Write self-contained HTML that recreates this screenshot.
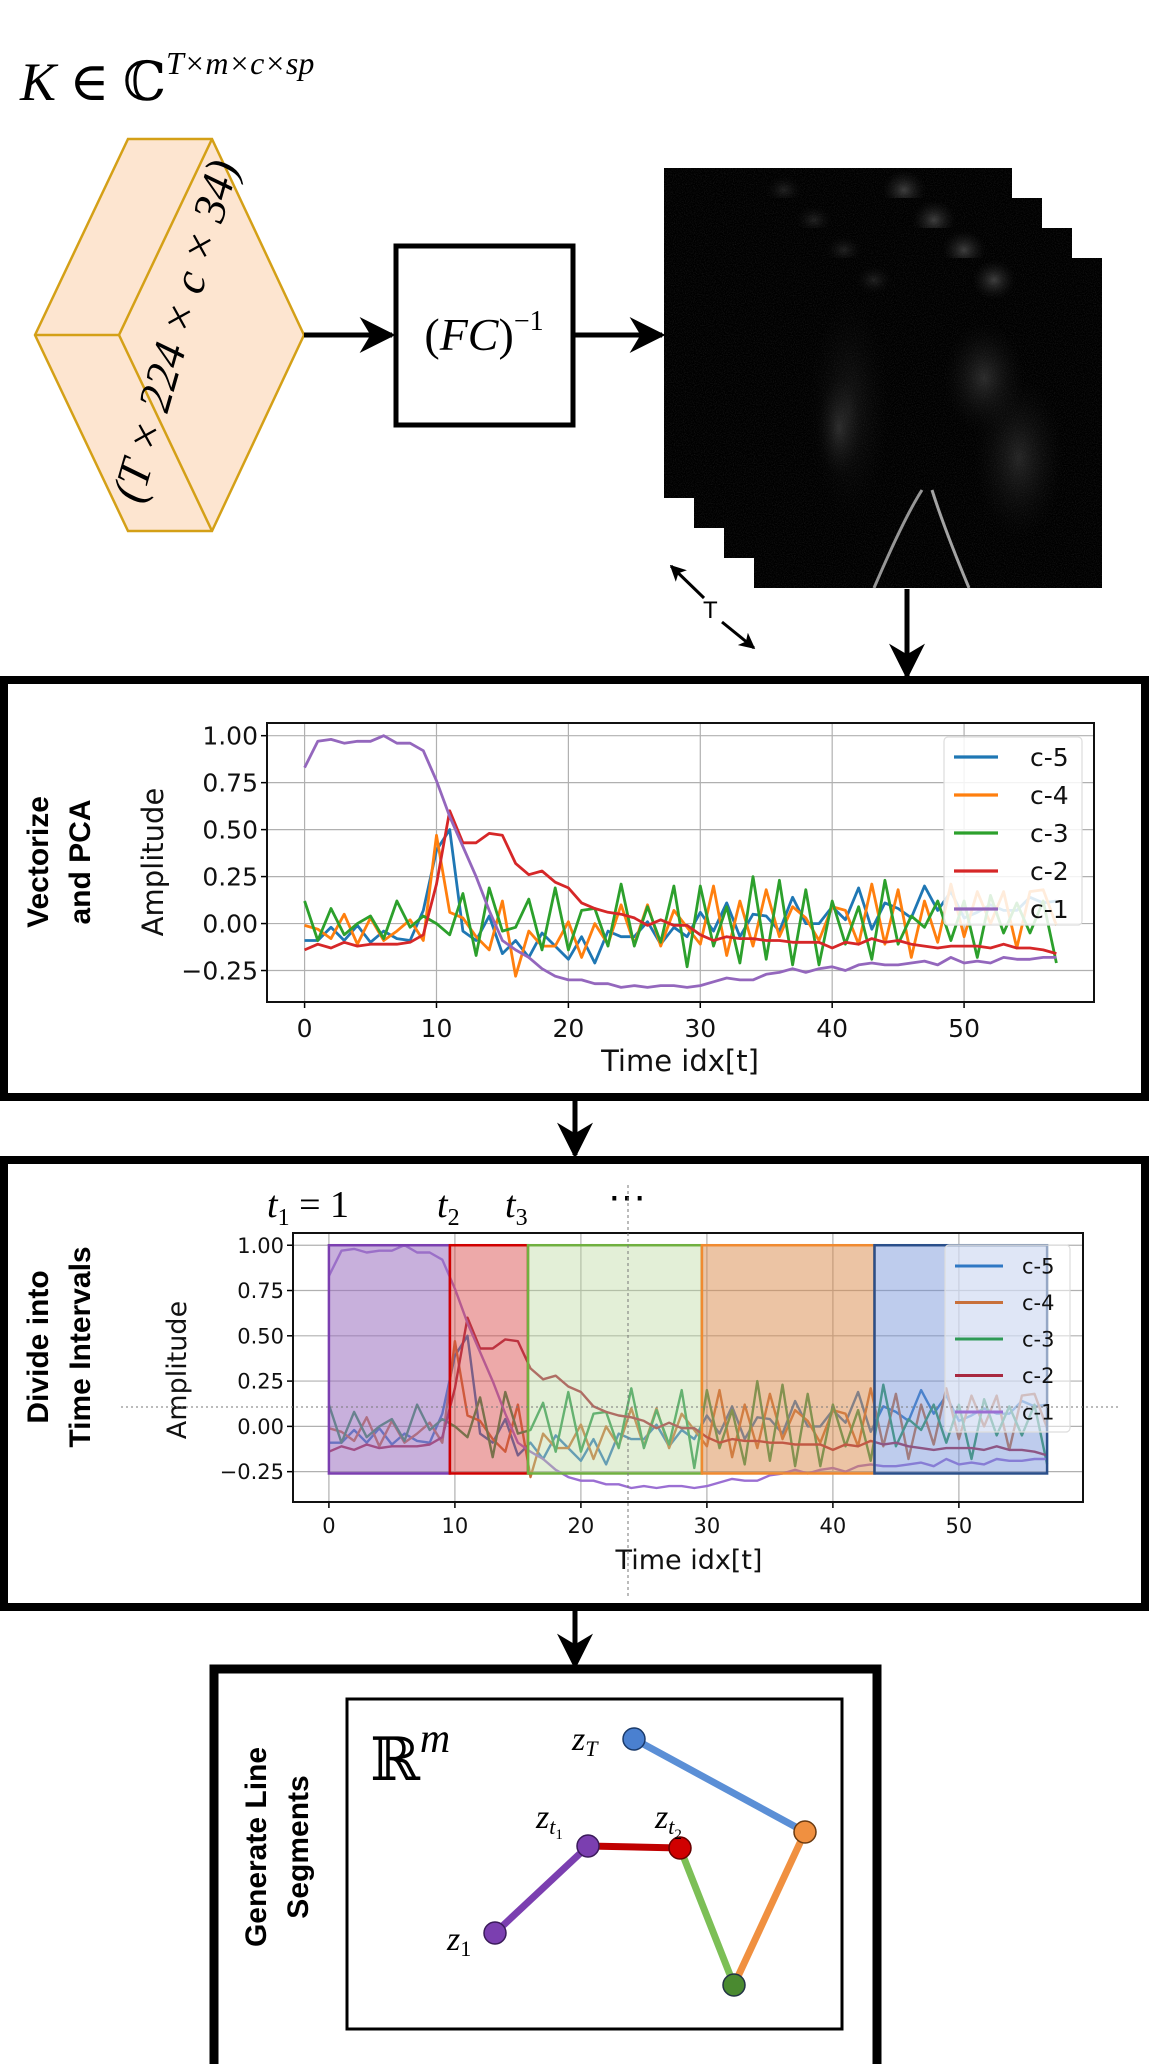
<!DOCTYPE html>
<html><head><meta charset="utf-8">
<style>
html,body{margin:0;padding:0;background:#fff;}
svg{display:block;}
.tick{font-family:"DejaVu Sans","Liberation Sans",sans-serif;fill:#111;}
.math{font-family:"Liberation Serif","DejaVu Serif",serif;font-style:italic;fill:#000;}
.side{font-family:"Liberation Sans",sans-serif;font-weight:bold;fill:#000;}
</style></head>
<body>
<svg id="root" width="1149" height="2064" viewBox="0 0 1149 2064" xmlns="http://www.w3.org/2000/svg">
<defs>
  <marker id="ah" viewBox="0 0 20 20" refX="18" refY="10" markerWidth="36" markerHeight="36" markerUnits="userSpaceOnUse" orient="auto">
    <path d="M0,0 L20,10 L0,20 L6,10 z" fill="#000"/>
  </marker>
  <marker id="ahs" viewBox="0 0 20 20" refX="18" refY="10" markerWidth="16" markerHeight="16" markerUnits="userSpaceOnUse" orient="auto">
    <path d="M0,0 L20,10 L0,20 L5,10 z" fill="#000"/>
  </marker>
  <filter id="noise" x="0" y="0" width="100%" height="100%">
    <feTurbulence type="fractalNoise" baseFrequency="0.9" numOctaves="2" seed="3"/>
    <feColorMatrix type="matrix" values="0 0 0 0 1  0 0 0 0 1  0 0 0 0 1  0 0 0 0.6 -0.25"/>
  </filter>
  <radialGradient id="blob"><stop offset="0" stop-color="#666" stop-opacity="0.6"/><stop offset="1" stop-color="#222" stop-opacity="0"/></radialGradient>
</defs>

<text x="20" y="100" class="math" font-size="54">K <tspan font-style="normal">∈ ℂ</tspan><tspan font-size="32" dy="-26">T×m×c×sp</tspan></text>

<g>
  <polygon points="35,335 128,139 212,139 304,335 212,531 128,531" fill="#fde5d0" stroke="#d4a017" stroke-width="2.5"/>
  <polyline points="212,139 119,335 212,531" fill="none" stroke="#d4a017" stroke-width="2.5"/>
  <line x1="35" y1="335" x2="119" y2="335" stroke="#d4a017" stroke-width="2.5"/>
  <text x="0" y="0" class="math" font-size="46" text-anchor="middle" transform="translate(190,335) rotate(-74)">(T × 224 × c × 34)</text>
</g>

<line x1="304" y1="335" x2="392" y2="335" stroke="#000" stroke-width="5" marker-end="url(#ah)"/>
<rect x="396" y="246" width="177" height="179" fill="#fff" stroke="#000" stroke-width="5"/>
<text x="484" y="350" class="math" font-size="46" text-anchor="middle"><tspan font-style="normal">(</tspan>FC<tspan font-style="normal">)</tspan><tspan font-size="28" dy="-20" font-style="normal">−1</tspan></text>
<line x1="575" y1="335" x2="662" y2="335" stroke="#000" stroke-width="5" marker-end="url(#ah)"/>

<g>
  <g id="stack"></g>
</g>
<line x1="704" y1="598" x2="671" y2="566" stroke="#000" stroke-width="3" marker-end="url(#ahs)"/>
<text x="703" y="618" font-family="Liberation Sans,sans-serif" font-size="24">T</text>
<line x1="722" y1="622" x2="754" y2="648" stroke="#000" stroke-width="3" marker-end="url(#ahs)"/>
<line x1="907" y1="589" x2="907" y2="676" stroke="#000" stroke-width="5" marker-end="url(#ah)"/>

<rect x="4" y="680" width="1141" height="417" fill="#fff" stroke="#000" stroke-width="8"/>
<text class="side" font-size="30" text-anchor="middle" transform="translate(48,862) rotate(-90)"><tspan x="0" dy="0">Vectorize</tspan><tspan x="0" dy="42">and PCA</tspan></text>
<g id="chart1"></g>

<line x1="575" y1="1099" x2="575" y2="1155" stroke="#000" stroke-width="5" marker-end="url(#ah)"/>

<rect x="4" y="1160" width="1141" height="447" fill="#fff" stroke="#000" stroke-width="8"/>
<text class="side" font-size="30" text-anchor="middle" transform="translate(48,1347) rotate(-90)"><tspan x="0" dy="0">Divide into</tspan><tspan x="0" dy="42">Time Intervals</tspan></text>
<g>
  <text x="267" y="1217" class="math" font-size="38">t<tspan font-size="24" dy="8" font-style="normal">1</tspan><tspan dy="-8" font-style="normal"> = 1</tspan></text>
  <text x="437" y="1217" class="math" font-size="38">t<tspan font-size="24" dy="8" font-style="normal">2</tspan></text>
  <text x="505" y="1217" class="math" font-size="38">t<tspan font-size="24" dy="8" font-style="normal">3</tspan></text>
  <text x="608" y="1210" font-family="Liberation Serif,serif" font-size="38">⋯</text>
</g>
<g id="chart2"></g>
<line x1="628" y1="1185" x2="628" y2="1598" stroke="#777" stroke-width="1" stroke-dasharray="3,3"/>
<line x1="121" y1="1407" x2="1121" y2="1407" stroke="#777" stroke-width="1" stroke-dasharray="2,3"/>

<line x1="575" y1="1608" x2="575" y2="1666" stroke="#000" stroke-width="5" marker-end="url(#ah)"/>

<rect x="214" y="1669" width="663" height="400" fill="#fff" stroke="#000" stroke-width="9"/>
<text class="side" font-size="30" text-anchor="middle" transform="translate(266,1847) rotate(-90)"><tspan x="0" dy="0">Generate Line</tspan><tspan x="0" dy="42">Segments</tspan></text>
<rect x="347" y="1699" width="495" height="330" fill="#fff" stroke="#000" stroke-width="3"/>
<text x="370" y="1780" font-family="DejaVu Serif,serif" font-size="60">ℝ<tspan class="math" font-size="42" dy="-28">m</tspan></text>
<g>
  <line x1="495" y1="1933" x2="588" y2="1846" stroke="#7b3fb0" stroke-width="7"/>
  <line x1="588" y1="1846" x2="680" y2="1848" stroke="#c00000" stroke-width="7"/>
  <line x1="680" y1="1848" x2="734" y2="1985" stroke="#7cbf56" stroke-width="7"/>
  <line x1="734" y1="1985" x2="805" y2="1832" stroke="#f09040" stroke-width="7"/>
  <line x1="805" y1="1832" x2="634" y2="1739" stroke="#5b8fd6" stroke-width="7"/>
  <circle cx="495" cy="1933" r="11" fill="#7b3fb0" stroke="#3a1a5a" stroke-width="1.5"/>
  <circle cx="588" cy="1846" r="11" fill="#7b3fb0" stroke="#3a1a5a" stroke-width="1.5"/>
  <circle cx="680" cy="1848" r="11" fill="#d00000" stroke="#600" stroke-width="1.5"/>
  <circle cx="734" cy="1985" r="11" fill="#4a8a30" stroke="#234" stroke-width="1.5"/>
  <circle cx="805" cy="1832" r="11" fill="#f09040" stroke="#6a3a10" stroke-width="1.5"/>
  <circle cx="634" cy="1739" r="11" fill="#4a80d0" stroke="#1a3a6a" stroke-width="1.5"/>
  <text x="572" y="1750" class="math" font-size="34">z<tspan font-size="22" dy="6">T</tspan></text>
  <text x="536" y="1828" class="math" font-size="34">z<tspan font-size="22" dy="6">t</tspan><tspan font-size="15" dy="5" font-style="normal">1</tspan></text>
  <text x="655" y="1828" class="math" font-size="34">z<tspan font-size="22" dy="6">t</tspan><tspan font-size="15" dy="5" font-style="normal">2</tspan></text>
  <text x="447" y="1950" class="math" font-size="34">z<tspan font-size="22" dy="6" font-style="normal">1</tspan></text>
</g>
</svg>

<script>
const timeIdx = Array.from({length:58},(_,i)=>i);
const seriesNames = ["c-5","c-4","c-3","c-2","c-1"];
const c5 = [-0.09,-0.09,-0.02,-0.09,-0.01,-0.10,-0.04,-0.08,-0.09,0.07,0.39,0.50,-0.04,-0.09,0.04,-0.16,-0.09,-0.18,-0.05,-0.12,-0.19,-0.07,-0.21,-0.04,-0.07,-0.07,0.01,-0.11,-0.02,-0.07,0.06,-0.04,0.11,-0.07,0.05,0.04,-0.04,0.14,0.00,0.00,0.09,0.02,0.19,-0.03,0.11,0.08,0.03,0.20,0.07,0.17,0.03,0.06,0.10,0.07,0.07,0.14,0.11,0.12];
const c4 = [-0.01,-0.03,-0.08,0.05,-0.11,0.03,-0.09,-0.04,0.02,-0.09,0.47,0.06,0.03,-0.07,-0.14,0.12,-0.28,-0.04,-0.12,-0.12,0.01,-0.18,0.00,-0.11,0.10,-0.11,0.10,-0.12,0.07,-0.02,-0.11,0.20,-0.17,0.12,-0.12,0.18,-0.07,0.09,0.03,-0.09,0.09,0.07,-0.11,0.21,-0.11,0.18,-0.18,0.12,-0.10,0.21,-0.07,0.17,0.00,0.17,-0.13,0.17,0.18,-0.01];
const c3 = [0.12,-0.09,0.08,-0.06,0.00,0.04,-0.08,0.12,-0.02,0.04,0.00,-0.06,0.16,-0.17,0.19,-0.04,-0.02,0.13,-0.14,0.19,-0.14,0.07,0.08,-0.12,0.21,-0.12,0.09,-0.10,0.20,-0.23,0.20,-0.12,0.09,-0.21,0.25,-0.19,0.23,-0.22,0.18,-0.22,0.12,-0.11,0.09,-0.19,0.23,-0.11,0.04,-0.02,0.12,-0.09,0.12,-0.18,0.15,-0.05,0.11,-0.05,0.12,-0.21];
const c2 = [-0.14,-0.11,-0.13,-0.10,-0.12,-0.11,-0.11,-0.11,-0.10,-0.06,0.21,0.60,0.43,0.43,0.48,0.47,0.32,0.26,0.28,0.22,0.19,0.11,0.08,0.06,0.05,0.03,-0.01,0.02,-0.01,-0.01,-0.06,-0.09,-0.07,-0.08,-0.08,-0.09,-0.09,-0.10,-0.10,-0.10,-0.13,-0.10,-0.11,-0.08,-0.10,-0.09,-0.11,-0.12,-0.13,-0.12,-0.12,-0.12,-0.13,-0.11,-0.13,-0.13,-0.14,-0.16];
const c1 = [0.83,0.97,0.98,0.96,0.97,0.97,1.00,0.96,0.96,0.92,0.76,0.57,0.41,0.25,0.07,-0.09,-0.14,-0.18,-0.24,-0.28,-0.30,-0.30,-0.32,-0.32,-0.34,-0.33,-0.34,-0.33,-0.33,-0.34,-0.33,-0.31,-0.29,-0.30,-0.30,-0.27,-0.26,-0.24,-0.26,-0.24,-0.23,-0.25,-0.22,-0.21,-0.22,-0.22,-0.21,-0.20,-0.22,-0.18,-0.21,-0.20,-0.21,-0.18,-0.19,-0.19,-0.18,-0.18];
const xTicks = [0,10,20,30,40,50];
const yTicks = [-0.25,0,0.25,0.5,0.75,1.0];
const yTickLabels = ["−0.25","0.00","0.25","0.50","0.75","1.00"];
const intervalStarts = [0,9.6,15.8,29.6,43.3];
const intervalEnds = [9.6,15.8,29.6,43.3,57];
const intervalTop = 1.0;
const intervalBottom = -0.26;

const NS="http://www.w3.org/2000/svg";
function mk(tag, attrs, parent){const e=document.createElementNS(NS,tag);for(const k in attrs)e.setAttribute(k,attrs[k]);parent.appendChild(e);return e;}

(function(){
  const g=document.getElementById('stack');
  for(let i=0;i<4;i++){
    const x=664+30*i,y=168+30*i;
    const im=mk('g',{},g);
    
    
    mk('rect',{x:x,y:y,width:348,height:330,fill:'#000'},im);
    mk('rect',{x:x,y:y,width:348,height:330,filter:'url(#noise)',opacity:0.3},im);
    mk('ellipse',{cx:x+240,cy:y+22,rx:22,ry:20,fill:'url(#blob)'},im);
    mk('ellipse',{cx:x+120,cy:y+22,rx:18,ry:14,fill:'url(#blob)',opacity:0.5},im);
    if(i===3){
      mk('ellipse',{cx:x+95,cy:y+150,rx:40,ry:110,fill:'url(#blob)',opacity:0.35},im);
      mk('ellipse',{cx:x+85,cy:y+170,rx:22,ry:50,fill:'url(#blob)',opacity:0.6},im);
      mk('ellipse',{cx:x+230,cy:y+120,rx:40,ry:55,fill:'url(#blob)',opacity:0.7},im);
      mk('ellipse',{cx:x+265,cy:y+200,rx:45,ry:80,fill:'url(#blob)',opacity:0.6},im);
      mk('path',{d:`M${x+120},${y+330} Q${x+150},${y+260} ${x+168},${y+232}`,stroke:'#bbb','stroke-width':3,fill:'none',opacity:0.8},im);
      mk('path',{d:`M${x+215},${y+330} Q${x+190},${y+270} ${x+178},${y+232}`,stroke:'#ccc','stroke-width':3,fill:'none',opacity:0.8},im);
    }
  }
})();

function drawChart(gid, cfg){
  const g=document.getElementById(gid);
  const {L,R,T,B,xmin,xmax,ymin,ymax,fs,colors,legend}=cfg;
  const sx=v=>L+(v-xmin)/(xmax-xmin)*(R-L);
  const sy=v=>B-(v-ymin)/(ymax-ymin)*(B-T);
  mk('rect',{x:L,y:T,width:R-L,height:B-T,fill:'#fff'},g);
  xTicks.forEach(t=>{
    const gl=mk('line',{x1:sx(t),x2:sx(t),y1:T,y2:B,stroke:'#b0b0b0','stroke-width':1.2},g);
    
    
    mk('line',{x1:sx(t),x2:sx(t),y1:B,y2:B+6,stroke:'#000','stroke-width':1.5},g);
    const tl=mk('text',{x:sx(t),y:B+fs+10,'text-anchor':'middle','font-size':fs,class:'tick'},g);
    tl.textContent=t;
    
    
  });
  yTicks.forEach((t,i)=>{
    const gl=mk('line',{x1:L,x2:R,y1:sy(t),y2:sy(t),stroke:'#b0b0b0','stroke-width':1.2},g);
    
    
    mk('line',{x1:L-6,x2:L,y1:sy(t),y2:sy(t),stroke:'#000','stroke-width':1.5},g);
    const tl=mk('text',{x:L-9,y:sy(t)+fs*0.36,'text-anchor':'end','font-size':fs,class:'tick'},g);
    tl.textContent=yTickLabels[i];
    
    
  });
  const data=[c5,c4,c3,c2,c1];
  data.forEach((s,k)=>{
    const d=s.map((v,i)=>(i?'L':'M')+sx(timeIdx[i]).toFixed(1)+','+sy(v).toFixed(1)).join(' ');
    const p=mk('path',{d:d,fill:'none',stroke:colors[k],'stroke-width':cfg.lw,'stroke-linejoin':'round'},g);
    
    
  });
  if(cfg.intervals){
    cfg.intervals.forEach((c,i)=>{
      const r=mk('rect',{x:sx(intervalStarts[i]),y:sy(intervalTop),width:sx(intervalEnds[i])-sx(intervalStarts[i]),height:sy(intervalBottom)-sy(intervalTop),fill:c[0],'fill-opacity':c[2],stroke:c[1],'stroke-width':2.5},g);
      
      
    });
  }
  const lg=mk('g',{},g);
  
  
  mk('rect',{x:legend.x,y:legend.y,width:legend.w,height:legend.h,rx:4,fill:'#fff','fill-opacity':cfg.legendAlpha,stroke:'#ddd','stroke-width':1.2},lg);
  seriesNames.forEach((n,k)=>{
    const y=legend.y0+k*legend.dy;
    const e=mk('g',{},lg);
    
    
    mk('line',{x1:legend.lx,x2:legend.lx+legend.lw,y1:y,y2:y,stroke:colors[k],'stroke-width':cfg.lw+0.5},e);
    const t=mk('text',{x:legend.tx,y:y+fs*0.36,'font-size':fs,class:'tick'},e);
    t.textContent=n;
  });
  mk('rect',{x:L,y:T,width:R-L,height:B-T,fill:'none',stroke:'#111','stroke-width':2},g);
  const xl=mk('text',{x:cfg.xlx,y:cfg.xly,'text-anchor':'middle','font-size':cfg.lfs,class:'tick'},g);
  xl.textContent='Time idx[t]';
  
  
  const yl=mk('text',{x:0,y:0,'text-anchor':'middle','font-size':cfg.lfs,class:'tick',transform:`translate(${cfg.ylx},${cfg.yly}) rotate(-90)`},g);
  yl.textContent='Amplitude';
  
  
}

drawChart('chart1',{L:267,R:1094,T:723,B:1002,xmin:-2.85,xmax:59.85,ymin:-0.4175,ymax:1.0675,fs:25,lfs:29,lw:2.8,
  colors:['#1f77b4','#ff7f0e','#2ca02c','#d62728','#9467bd'],
  legend:{x:944,y:737,w:138,h:188,y0:757,dy:38,lx:954,lw:44,tx:1030},legendAlpha:0.85,
  xlx:680,xly:1071,ylx:163,yly:862});

drawChart('chart2',{L:293,R:1083,T:1233,B:1502,xmin:-2.85,xmax:59.85,ymin:-0.4175,ymax:1.0675,fs:21,lfs:27,lw:2.4,
  colors:['#2f78c4','#c8703a','#2e9a56','#a82840','#9b6fd3'],
  intervals:[['#9b6fc0','#7b3fb0',0.55],['#d84040','#d00000',0.45],['#b8d89a','#70b040',0.4],['#d9894a','#f08a30',0.5],['#6f8fd8','#2a4f8a',0.45]],
  legend:{x:945,y:1245,w:125,h:187,y0:1266,dy:36.5,lx:955,lw:48,tx:1022},legendAlpha:0.5,
  xlx:689,xly:1569,ylx:186,yly:1370});
</script>
</body></html>
